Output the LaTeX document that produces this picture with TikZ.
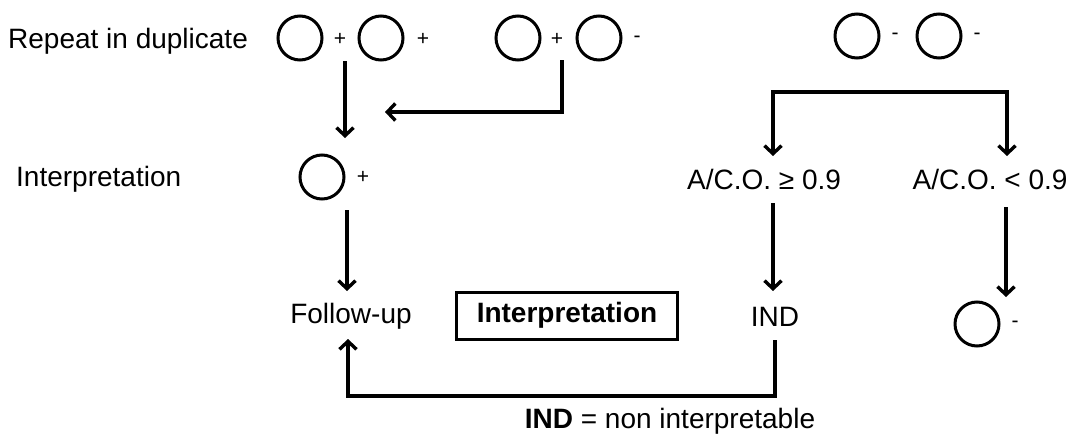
\documentclass[tikz,border=0pt]{standalone}
\usepackage{fontspec}
\setmainfont{Liberation Sans}
\usetikzlibrary{arrows.meta}
\begin{document}
\begin{tikzpicture}[x=1pt,y=-1pt,
  lbl/.style={font=\fontsize{28}{33}\selectfont, inner sep=0pt},
  sgn/.style={font=\fontsize{21}{25}\selectfont, inner sep=0pt},
  ring/.style={circle, draw, line width=3pt, minimum size=44pt, inner sep=0pt},
  conn/.style={line width=3.4pt, line join=miter},
  arr/.style={conn, -{Straight Barb[length=8pt,width=17pt]}},
  darr/.style={conn, {Straight Barb[length=8pt,width=17pt]}-{Straight Barb[length=8pt,width=17pt]}},
  framebox/.style={draw, line width=3pt, minimum width=221pt, minimum height=47pt, inner sep=0pt,
    font=\fontsize{28}{33}\selectfont\bfseries}
]
\useasboundingbox (0,0) rectangle (1068,439);
% top row
\node[lbl, anchor=west] (rep) at (8,41) {Repeat in duplicate};
\node[ring] (c1) at (300,38) {};
\node[sgn] (p1) at (340,39) {+};
\node[ring] (c2) at (381,38) {};
\node[sgn] (p2) at (423,39) {+};
\node[ring] (c3) at (518,38) {};
\node[sgn] (p3) at (557,39) {+};
\node[ring] (c4) at (599,38) {};
\node[sgn] (m4) at (637,39) {-};
\node[ring] (c5) at (857,36) {};
\node[sgn] (m5) at (895,36) {-};
\node[ring] (c6) at (939,36) {};
\node[sgn] (m6) at (977,36) {-};
% second row
\node[lbl, anchor=west] (interp) at (16,179) {Interpretation};
\node[ring] (c7) at (322,177) {};
\node[sgn] (p7) at (363,177) {+};
\node[lbl] (aco1) at (764,179) {A/C.O. ≥ 0.9};
\node[lbl] (aco2) at (990,179) {A/C.O. < 0.9};
% third row
\node[lbl] (fu) at (351,316) {Follow-up};
\node[framebox] (box) at (567,315.5) {Interpretation};
\node[lbl] (ind) at (775,317) {IND};
\node[ring] (c8) at (977,324) {};
\node[sgn] (m8) at (1015,324) {-};
\node[lbl] (note) at (670,421) {\textbf{IND} = non interpretable};
% connector points
\coordinate (a1s) at (345,61);
\coordinate (a1e) at (345,138);
\coordinate (a2s) at (562,60);
\coordinate (a2e) at (385,112);
\coordinate (bl) at (773,156);
\coordinate (br) at (1007,156);
\coordinate (by) at (0,92);
\coordinate (a3s) at (347,210);
\coordinate (a3e) at (347,291);
\coordinate (a4s) at (773,203);
\coordinate (a4e) at (773,291);
\coordinate (a5s) at (1006,207);
\coordinate (a5e) at (1006,297);
\coordinate (fbs) at (775,340);
\coordinate (fby) at (0,396);
\coordinate (fbe) at (348,339);
% connectors
\draw[arr] (a1s) -- (a1e);
\draw[arr] (a2s) |- (a2e);
\draw[darr] (bl) -- (bl |- by) -- (br |- by) -- (br);
\draw[arr] (a3s) -- (a3e);
\draw[arr] (a4s) -- (a4e);
\draw[arr] (a5s) -- (a5e);
\draw[arr] (fbs) -- (fbs |- fby) -- (fbe |- fby) -- (fbe);
\end{tikzpicture}
\end{document}
